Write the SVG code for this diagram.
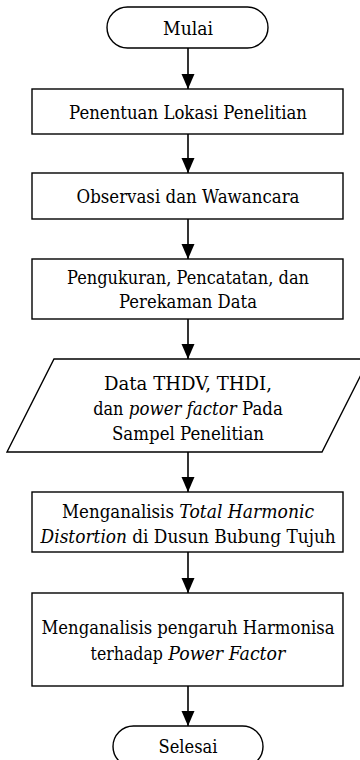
<svg xmlns="http://www.w3.org/2000/svg" width="360" height="760" viewBox="0 0 360 760">
<style>
.s{fill:#fff;stroke:#000;stroke-width:1.4}
.t{font-family:'DejaVu Serif','Liberation Serif',serif;font-size:19px;fill:#000;text-anchor:middle}
.l{text-anchor:start}
.i{font-style:italic}
.c{stroke:#000;stroke-width:1.6;fill:none}
</style>
<defs>
<marker id="ah" markerUnits="userSpaceOnUse" markerWidth="15" markerHeight="14" refX="15" refY="7" orient="auto">
<path d="M0,0.5 L15,7 L0,13.5 z" fill="#000"/>
</marker>
</defs>
<rect width="360" height="760" fill="#fff"/>
<g id="connectors">
<line class="c" x1="188" y1="48" x2="188" y2="89" marker-end="url(#ah)"/>
<line class="c" x1="188" y1="134" x2="188" y2="173" marker-end="url(#ah)"/>
<line class="c" x1="188" y1="219" x2="188" y2="259" marker-end="url(#ah)"/>
<line class="c" x1="188" y1="319" x2="188" y2="359" marker-end="url(#ah)"/>
<line class="c" x1="188" y1="452" x2="188" y2="492" marker-end="url(#ah)"/>
<line class="c" x1="188" y1="552" x2="188" y2="593" marker-end="url(#ah)"/>
<line class="c" x1="188" y1="686" x2="188" y2="726" marker-end="url(#ah)"/>
</g>
<g id="mulai">
<rect class="s" x="107" y="7" width="161" height="41" rx="20.5"/>
<text class="t" x="188" y="34.5" textLength="50" lengthAdjust="spacingAndGlyphs">Mulai</text>
</g>
<g id="lokasi">
<rect class="s" x="32" y="89" width="311" height="45"/>
<text class="t" x="188" y="119" textLength="238" lengthAdjust="spacingAndGlyphs">Penentuan Lokasi Penelitian</text>
</g>
<g id="observasi">
<rect class="s" x="32" y="173" width="311" height="46"/>
<text class="t" x="188" y="203" textLength="223" lengthAdjust="spacingAndGlyphs">Observasi dan Wawancara</text>
</g>
<g id="pengukuran">
<rect class="s" x="32" y="259" width="311" height="60"/>
<text class="t" x="188" y="283.5" textLength="242" lengthAdjust="spacingAndGlyphs">Pengukuran, Pencatatan, dan</text>
<text class="t" x="188" y="308" textLength="138" lengthAdjust="spacingAndGlyphs">Perekaman Data</text>
</g>
<g id="data">
<polygon class="s" points="54,359 369,359 322,452 7,452"/>
<text class="t" x="188" y="390" textLength="168" lengthAdjust="spacingAndGlyphs">Data THDV, THDI,</text>
<text class="t l" x="93.2" y="415" textLength="30.3" lengthAdjust="spacingAndGlyphs">dan</text>
<text class="t l i" x="128.8" y="415" textLength="107.9" lengthAdjust="spacingAndGlyphs">power factor</text>
<text class="t l" x="242" y="415" textLength="40.8" lengthAdjust="spacingAndGlyphs">Pada</text>
<text class="t" x="188" y="440" textLength="152" lengthAdjust="spacingAndGlyphs">Sampel Penelitian</text>
</g>
<g id="thd">
<rect class="s" x="32" y="492" width="311" height="60"/>
<text class="t l" x="62" y="518" textLength="112" lengthAdjust="spacingAndGlyphs">Menganalisis</text>
<text class="t l i" x="179.3" y="518" textLength="134.8" lengthAdjust="spacingAndGlyphs">Total Harmonic</text>
<text class="t l i" x="40.6" y="543" textLength="86.4" lengthAdjust="spacingAndGlyphs">Distortion</text>
<text class="t l" x="132.2" y="543" textLength="203.6" lengthAdjust="spacingAndGlyphs">di Dusun Bubung Tujuh</text>
</g>
<g id="pengaruh">
<rect class="s" x="32" y="593" width="311" height="93"/>
<text class="t" x="188" y="634" textLength="293" lengthAdjust="spacingAndGlyphs">Menganalisis pengaruh Harmonisa</text>
<text class="t l" x="90.6" y="660" textLength="72.3" lengthAdjust="spacingAndGlyphs">terhadap</text>
<text class="t l i" x="168.2" y="660" textLength="117.2" lengthAdjust="spacingAndGlyphs">Power Factor</text>
</g>
<g id="selesai">
<rect class="s" x="113" y="726" width="150" height="41" rx="20.5"/>
<text class="t" x="188" y="752.5" textLength="59" lengthAdjust="spacingAndGlyphs">Selesai</text>
</g>
</svg>
